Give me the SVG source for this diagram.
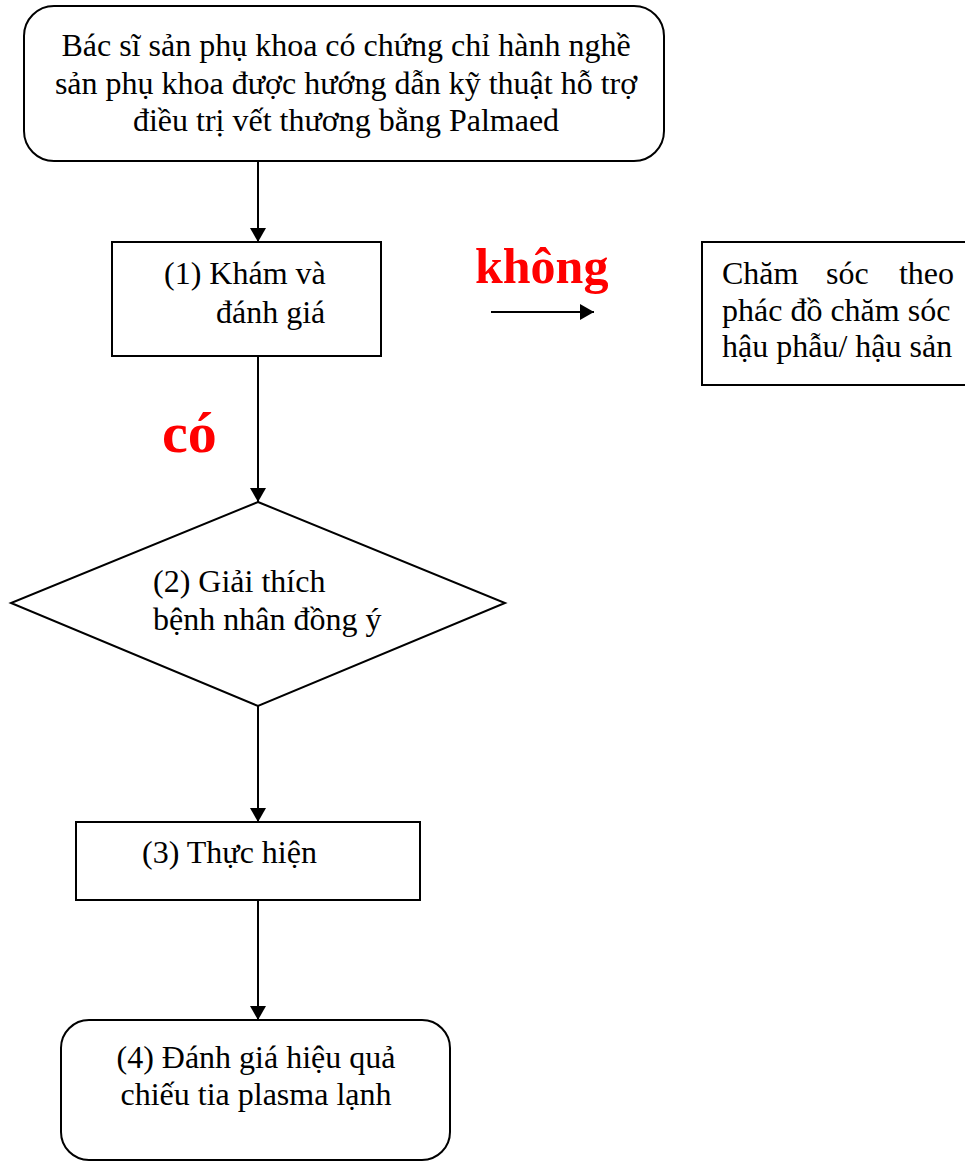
<svg xmlns="http://www.w3.org/2000/svg" width="965" height="1161" viewBox="0 0 965 1161">
<defs>
<style>
.box{fill:#fff;stroke:#000;stroke-width:2}
.t{font-family:"Liberation Serif","Times New Roman",serif;font-size:32px;fill:#000}
.lbl{font-family:"Liberation Serif","Times New Roman",serif;font-weight:bold;fill:#ff0000}
.c{stroke:#000;stroke-width:2;fill:none;marker-end:url(#ahv)}
</style>
<marker id="ahv" viewBox="0 0 14 16" markerWidth="14" markerHeight="16" refX="14" refY="8" orient="auto" markerUnits="userSpaceOnUse">
<path d="M0,0 L14,8 L0,16 Z" fill="#000"/>
</marker>
</defs>
<rect width="965" height="1161" fill="#fff"/>
<g id="connectors">
<line class="c" x1="258" y1="161" x2="258" y2="242"/>
<line class="c" x1="258" y1="356" x2="258" y2="502"/>
<line class="c" x1="258" y1="706" x2="258" y2="822"/>
<line class="c" x1="258" y1="900" x2="258" y2="1020"/>
<line class="c" x1="491" y1="312" x2="594" y2="312"/>
</g>
<g id="n0">
<rect class="box" x="24" y="6" width="640" height="155" rx="30"/>
<text class="t" x="346" y="56" text-anchor="middle">Bác sĩ sản phụ khoa có chứng chỉ hành nghề</text>
<text class="t" x="346" y="94" text-anchor="middle">sản phụ khoa được hướng dẫn kỹ thuật hỗ trợ</text>
<text class="t" x="346" y="131" text-anchor="middle">điều trị vết thương bằng Palmaed</text>
</g>
<g id="n1">
<rect class="box" x="112" y="242" width="269" height="114"/>
<text class="t" x="164" y="284">(1) Khám và</text>
<text class="t" x="216" y="323">đánh giá</text>
</g>
<g id="lbl-khong">
<text class="lbl" x="475" y="283" font-size="50">không</text>
</g>
<g id="n5">
<rect class="box" x="702" y="242" width="270" height="143"/>
<text class="t" x="722" y="284">Chăm</text>
<text class="t" x="826" y="284">sóc</text>
<text class="t" x="954" y="284" text-anchor="end">theo</text>
<text class="t" x="722" y="321">phác đồ chăm sóc</text>
<text class="t" x="722" y="357">hậu phẫu/ hậu sản</text>
</g>
<g id="lbl-co">
<text class="lbl" x="162" y="452" font-size="58">có</text>
</g>
<g id="n2">
<polygon class="box" points="258,502 505,603 258,706 11,603"/>
<text class="t" x="153" y="592">(2) Giải thích</text>
<text class="t" x="153" y="630">bệnh nhân đồng ý</text>
</g>
<g id="n3">
<rect class="box" x="76" y="822" width="344" height="78"/>
<text class="t" x="142" y="863">(3) Thực hiện</text>
</g>
<g id="n4">
<rect class="box" x="61" y="1020" width="389" height="140" rx="28"/>
<text class="t" x="256" y="1068" text-anchor="middle">(4) Đánh giá hiệu quả</text>
<text class="t" x="256" y="1105" text-anchor="middle">chiếu tia plasma lạnh</text>
</g>
</svg>
